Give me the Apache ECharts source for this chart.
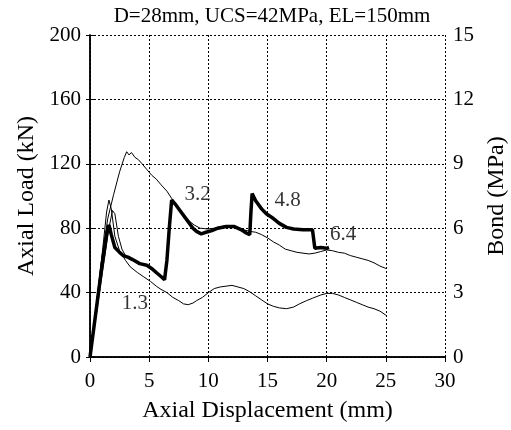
<!DOCTYPE html>
<html><head><meta charset="utf-8">
<script src="https://cdn.jsdelivr.net/npm/echarts@6/dist/echarts.min.js"></script>
<style>html,body{margin:0;padding:0;background:#fff}#c{width:511px;height:430px}</style>
</head><body><div id="c"></div>
<script>
// Axis ticks
var xTicks = [0, 5, 10, 15, 20, 25, 30];
var loadTicks = [0, 40, 80, 120, 160, 200];
var bondTicks = [0, 3, 6, 9, 12, 15];

// Curve with peak ~128 kN (thin)
var curveA = [[0,0],[0.5,30],[1.0,62],[1.5,86],[2.0,101],[2.5,115],[2.9,124],[3.1,127.5],[3.3,125.5],[3.5,127],[3.8,124],[4.1,122.5],[4.4,120],[4.8,116.5],[5.2,113],[5.6,110.5],[6.0,107],[6.5,103],[6.9,98.5],[7.3,94],[7.8,89],[8.3,85],[8.8,82],[9.3,80],[10,79.5],[10.5,80],[11,81],[11.5,81.5],[12,81],[12.5,80.5],[13,79],[13.5,78],[14,77.5],[14.5,76],[15,74],[15.5,71.5],[16,69.5],[16.5,67],[17,66],[17.5,65],[18,64.5],[18.5,64],[19,64.5],[19.5,65.5],[20,66.5],[20.5,66],[21,65],[21.5,64.5],[22,63],[22.5,62],[23,61],[23.5,60],[24,58.5],[24.5,56.5],[25,55]];

// Curve "1.3" (thin, peak ~97 kN)
var curveB = [[0,0],[0.5,30],[1.0,62],[1.4,90],[1.6,97.5],[1.8,92],[2.1,75],[2.5,66],[3.0,60],[3.4,56],[4.0,52.5],[4.5,50],[5.1,47],[5.6,44],[6.0,42],[6.5,40],[7.0,37],[7.5,35],[7.9,33],[8.3,32.5],[8.7,33.5],[9.0,35],[9.5,37],[10,40],[10.5,42.5],[11,43.5],[11.5,44],[12,44.5],[12.5,43.5],[13,42.5],[13.5,40.5],[14,38],[14.5,35.5],[15,33],[15.5,31.5],[16,30.5],[16.6,30],[17.2,31],[17.7,33],[18.3,35],[18.8,36.5],[19.5,38.5],[20,39.5],[20.5,39.5],[21,38.5],[21.5,37],[22,35.5],[22.5,34],[23,32.5],[23.5,31],[24,30],[24.5,28.5],[25,26]];

// Curve with peak ~91 kN (thin, short)
var curveC = [[0,0],[0.6,30],[1.2,60],[1.6,80],[1.9,91],[2.1,89],[2.4,75],[2.7,67],[3.0,63],[3.5,61]];

// Thick curve with reloading peaks
var curveD = [[0,0],[0.5,28],[1.0,56],[1.4,76],[1.6,82],[1.8,76],[2.1,68],[2.5,65],[2.8,63],[3.2,62],[3.6,60.5],[4.2,58],[4.8,57],[5.2,55],[5.6,52.5],[6.0,50],[6.3,48],[6.5,60],[6.7,80],[6.9,97.5],[7.2,95],[7.6,91],[8.2,85],[8.7,80],[9.0,78],[9.4,76.5],[9.8,77.5],[10.3,78.5],[10.8,80],[11.5,81],[12.2,81],[12.8,79],[13.2,77],[13.5,76],[13.6,90],[13.7,101.5],[14.0,97],[14.5,92],[14.9,89],[15.5,86],[16.0,83],[16.6,80.5],[17.2,79.5],[18,79],[18.8,79],[19.0,67.5],[19.5,68],[20,67.5],[20.2,68]];

// Annotations (data coordinates)
var noteText = ['3.2', '4.8', '6.4', '1.3'];
var noteX = [9.1, 16.7, 21.4, 3.8];
var noteY = [101, 97.5, 76, 33.3];

var FONT = 'Liberation Serif';
var chart = echarts.init(document.getElementById('c'));
var noteData = noteText.map(function (t, i) { return { value: [noteX[i], noteY[i]], name: t }; });

function lineSeries(d, w) {
  return { type: 'line', data: d, showSymbol: false, symbol: 'none', animation: false,
    lineStyle: { color: '#000', width: w }, xAxisIndex: 0, yAxisIndex: 0 };
}

chart.setOption({
  animation: false,
  title: { text: 'D=28mm, UCS=42MPa, EL=150mm', left: 267, top: 1, textAlign: 'center',
    textStyle: { fontFamily: FONT, fontSize: 21, fontWeight: 'normal', color: '#000' } },
  grid: { left: 90, right: 66, top: 35, bottom: 73, containLabel: false, outerBoundsMode: 'none' },
  xAxis: [{
    type: 'value', min: 0, max: 30, interval: 5, position: 'bottom',
    name: 'Axial Displacement (mm)', nameLocation: 'middle', nameGap: 42,
    nameTextStyle: { fontFamily: FONT, fontSize: 24, color: '#000' },
    axisLine: { show: true, lineStyle: { color: '#000', width: 1.5 } },
    axisTick: { show: true, inside: false, length: 5, lineStyle: { color: '#000' } },
    axisLabel: { fontFamily: FONT, fontSize: 21, color: '#000', margin: 14 },
    splitLine: { show: true, lineStyle: { color: '#000', type: [2, 2], width: 1 } }
  }, {
    type: 'value', min: 0, max: 30, interval: 5, position: 'top',
    axisLine: { show: true, lineStyle: { color: '#000', width: 1.5 } },
    axisTick: { show: true, inside: true, length: 4, lineStyle: { color: '#000' } },
    axisLabel: { show: false }, splitLine: { show: false }
  }],
  yAxis: [{
    type: 'value', min: 0, max: 200, interval: 40, position: 'left',
    name: 'Axial Load (kN)', nameLocation: 'middle', nameGap: 51,
    nameTextStyle: { fontFamily: FONT, fontSize: 24, color: '#000' },
    axisLine: { show: true, lineStyle: { color: '#000', width: 1.5 } },
    axisTick: { show: true, inside: false, length: 4, lineStyle: { color: '#000' } },
    axisLabel: { fontFamily: FONT, fontSize: 21, color: '#000', margin: 9 },
    splitLine: { show: true, lineStyle: { color: '#000', type: [2, 2], width: 1 } }
  }, {
    type: 'value', min: 0, max: 15, interval: 3, position: 'right',
    name: 'Bond (MPa)', nameLocation: 'middle', nameGap: 32,
    nameTextStyle: { fontFamily: FONT, fontSize: 24, color: '#000' },
    axisLine: { show: true, lineStyle: { color: '#000', width: 1.5 } },
    axisTick: { show: true, inside: false, length: 4, lineStyle: { color: '#000' } },
    axisLabel: { fontFamily: FONT, fontSize: 21, color: '#000', margin: 8 },
    splitLine: { show: false }
  }],
  series: [
    lineSeries(curveA, 1),
    lineSeries(curveB, 1),
    lineSeries(curveC, 1),
    lineSeries(curveD, 3.5),
    { type: 'scatter', data: noteData, symbolSize: 0, animation: false, silent: true,
      label: { show: true, position: 'inside', formatter: '{b}', fontFamily: FONT, fontSize: 21, color: '#000' } }
  ]
});
</script></body></html>
